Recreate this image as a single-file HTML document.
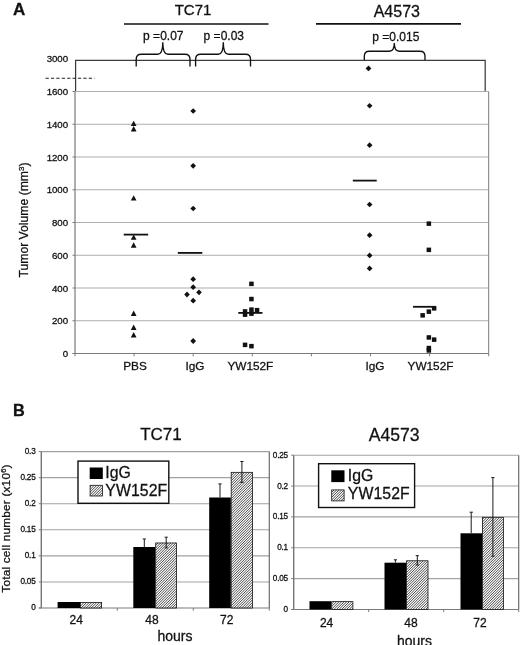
<!DOCTYPE html><html><head><meta charset="utf-8"><title>Figure</title>
<style>html,body{margin:0;padding:0;background:#fff;}body{width:520px;height:645px;overflow:hidden;}svg{display:block;will-change:transform;}text{font-family:"Liberation Sans",sans-serif;fill:#111;stroke:#111;stroke-width:0.28px;}</style></head><body>
<svg width="520" height="645" viewBox="0 0 520 645">
<line x1="75.0" x2="488.7" y1="320.75" y2="320.75" stroke="#adadad" stroke-width="1"/>
<line x1="75.0" x2="488.7" y1="288.00" y2="288.00" stroke="#adadad" stroke-width="1"/>
<line x1="75.0" x2="488.7" y1="255.25" y2="255.25" stroke="#adadad" stroke-width="1"/>
<line x1="75.0" x2="488.7" y1="222.50" y2="222.50" stroke="#adadad" stroke-width="1"/>
<line x1="75.0" x2="488.7" y1="189.75" y2="189.75" stroke="#adadad" stroke-width="1"/>
<line x1="75.0" x2="488.7" y1="157.00" y2="157.00" stroke="#adadad" stroke-width="1"/>
<line x1="75.0" x2="488.7" y1="124.25" y2="124.25" stroke="#adadad" stroke-width="1"/>
<line x1="75.0" x2="488.7" y1="91.50" y2="91.50" stroke="#adadad" stroke-width="1"/>
<line x1="75.0" x2="75.0" y1="91.5" y2="354.0" stroke="#7a7a7a" stroke-width="1.2"/>
<line x1="488.7" x2="488.7" y1="91.5" y2="353.5" stroke="#7a7a7a" stroke-width="1"/>
<line x1="72.5" x2="488.7" y1="353.5" y2="353.5" stroke="#7a7a7a" stroke-width="1.2"/>
<line x1="72.5" x2="75.0" y1="353.50" y2="353.50" stroke="#7a7a7a" stroke-width="1"/>
<line x1="72.5" x2="75.0" y1="320.75" y2="320.75" stroke="#7a7a7a" stroke-width="1"/>
<line x1="72.5" x2="75.0" y1="288.00" y2="288.00" stroke="#7a7a7a" stroke-width="1"/>
<line x1="72.5" x2="75.0" y1="255.25" y2="255.25" stroke="#7a7a7a" stroke-width="1"/>
<line x1="72.5" x2="75.0" y1="222.50" y2="222.50" stroke="#7a7a7a" stroke-width="1"/>
<line x1="72.5" x2="75.0" y1="189.75" y2="189.75" stroke="#7a7a7a" stroke-width="1"/>
<line x1="72.5" x2="75.0" y1="157.00" y2="157.00" stroke="#7a7a7a" stroke-width="1"/>
<line x1="72.5" x2="75.0" y1="124.25" y2="124.25" stroke="#7a7a7a" stroke-width="1"/>
<line x1="72.5" x2="75.0" y1="91.50" y2="91.50" stroke="#7a7a7a" stroke-width="1"/>
<line x1="75.0" x2="75.0" y1="353.5" y2="356.3" stroke="#7a7a7a" stroke-width="1"/>
<line x1="134.1" x2="134.1" y1="353.5" y2="356.3" stroke="#7a7a7a" stroke-width="1"/>
<line x1="193.2" x2="193.2" y1="353.5" y2="356.3" stroke="#7a7a7a" stroke-width="1"/>
<line x1="252.3" x2="252.3" y1="353.5" y2="356.3" stroke="#7a7a7a" stroke-width="1"/>
<line x1="311.4" x2="311.4" y1="353.5" y2="356.3" stroke="#7a7a7a" stroke-width="1"/>
<line x1="370.5" x2="370.5" y1="353.5" y2="356.3" stroke="#7a7a7a" stroke-width="1"/>
<line x1="429.6" x2="429.6" y1="353.5" y2="356.3" stroke="#7a7a7a" stroke-width="1"/>
<line x1="488.7" x2="488.7" y1="353.5" y2="356.3" stroke="#7a7a7a" stroke-width="1"/>
<path d="M75.6 91 V60.3 H485.2 V91" fill="none" stroke="#3c3c3c" stroke-width="1.25"/>
<line x1="45.5" x2="94.5" y1="78.2" y2="78.2" stroke="#222" stroke-width="1.1" stroke-dasharray="3.3 2.1"/>
<text x="68"  y="357.1" font-size="9.7" letter-spacing="-0.07" text-anchor="end">0</text>
<text x="68"  y="324.4" font-size="9.7" letter-spacing="-0.07" text-anchor="end">200</text>
<text x="68"  y="291.6" font-size="9.7" letter-spacing="-0.07" text-anchor="end">400</text>
<text x="68"  y="258.9" font-size="9.7" letter-spacing="-0.07" text-anchor="end">600</text>
<text x="68"  y="226.1" font-size="9.7" letter-spacing="-0.07" text-anchor="end">800</text>
<text x="68"  y="193.3" font-size="9.7" letter-spacing="-0.07" text-anchor="end">1000</text>
<text x="68"  y="160.6" font-size="9.7" letter-spacing="-0.07" text-anchor="end">1200</text>
<text x="68"  y="127.8" font-size="9.7" letter-spacing="-0.07" text-anchor="end">1400</text>
<text x="68"  y="95.1" font-size="9.7" letter-spacing="-0.07" text-anchor="end">1600</text>
<text x="68" y="61.7" font-size="9.7" letter-spacing="-0.07" text-anchor="end">3000</text>
<text transform="translate(28,220) rotate(-90)" font-size="12.2" text-anchor="middle">Tumor Volume (mm<tspan font-size="8" dy="-4">3</tspan><tspan dy="4">)</tspan></text>
<text x="13.1" y="15.2" font-size="17" font-weight="bold">A</text>
<text x="13.1" y="415.5" font-size="16.3" font-weight="bold">B</text>
<text x="193" y="14.9" font-size="15" text-anchor="middle">TC71</text>
<text x="396.8" y="16.5" font-size="16" text-anchor="middle">A4573</text>
<line x1="124" x2="268.5" y1="24" y2="24" stroke="#111" stroke-width="1.7"/>
<line x1="316" x2="461" y1="23.8" y2="23.8" stroke="#111" stroke-width="1.7"/>
<text x="163.3" y="39.9" font-size="12" text-anchor="middle">p =0.07</text>
<text x="223.8" y="39.9" font-size="12" text-anchor="middle">p =0.03</text>
<text x="395.8" y="40.6" font-size="12" text-anchor="middle">p =0.015</text>
<path d="M136.2 66.4 V59.2 Q136.2 54.2 141.2 54.2 H157.8 Q162.8 54.2 162.8 42.3 Q162.8 54.2 167.8 54.2 H185.0 Q190 54.2 190 59.2 V66.4" fill="none" stroke="#111" stroke-width="1.35"/>
<path d="M195.6 66.4 V59.2 Q195.6 54.2 200.6 54.2 H218.3 Q223.3 54.2 223.3 42.3 Q223.3 54.2 228.3 54.2 H245.5 Q250.5 54.2 250.5 59.2 V66.4" fill="none" stroke="#111" stroke-width="1.35"/>
<path d="M364.3 60 V56.2 Q364.3 51.2 369.3 51.2 H389.3 Q394.3 51.2 394.3 43 Q394.3 51.2 399.3 51.2 H420.0 Q425 51.2 425 56.2 V60" fill="none" stroke="#111" stroke-width="1.35"/>
<path d="M133.7 120.8 L136.5 126.1 H130.8 Z" fill="#111"/>
<path d="M133.7 126.1 L136.5 131.4 H130.8 Z" fill="#111"/>
<path d="M133.7 195.2 L136.5 200.5 H130.8 Z" fill="#111"/>
<path d="M133.7 234.5 L136.5 239.8 H130.8 Z" fill="#111"/>
<path d="M133.7 242.3 L136.5 247.7 H130.8 Z" fill="#111"/>
<path d="M133.7 310.6 L136.5 316.1 H130.8 Z" fill="#111"/>
<path d="M133.7 324.5 L136.5 329.9 H130.8 Z" fill="#111"/>
<path d="M133.7 331.9 L136.5 337.4 H130.8 Z" fill="#111"/>
<line x1="123.7" x2="148.2" y1="234.6" y2="234.6" stroke="#111" stroke-width="1.8"/>
<path d="M193.2 108.2 L196.0 111.0 L193.2 113.8 L190.3 111.0 Z" fill="#111"/>
<path d="M193.2 163.0 L196.0 165.8 L193.2 168.7 L190.3 165.8 Z" fill="#111"/>
<path d="M193.2 205.7 L196.0 208.5 L193.2 211.3 L190.3 208.5 Z" fill="#111"/>
<path d="M193.2 276.3 L196.0 279.2 L193.2 282.1 L190.3 279.2 Z" fill="#111"/>
<path d="M193.2 284.3 L196.0 287.2 L193.2 290.1 L190.3 287.2 Z" fill="#111"/>
<path d="M187.0 291.6 L189.8 294.5 L187.0 297.4 L184.2 294.5 Z" fill="#111"/>
<path d="M199.0 289.4 L201.8 292.3 L199.0 295.2 L196.2 292.3 Z" fill="#111"/>
<path d="M193.2 297.8 L196.0 300.7 L193.2 303.6 L190.3 300.7 Z" fill="#111"/>
<path d="M193.2 338.1 L196.0 341.0 L193.2 343.9 L190.3 341.0 Z" fill="#111"/>
<line x1="177.8" x2="202.3" y1="252.9" y2="252.9" stroke="#111" stroke-width="1.8"/>
<rect x="249.2" y="281.6" width="4.5" height="4.5" fill="#111"/>
<rect x="249.2" y="296.8" width="4.5" height="4.5" fill="#111"/>
<rect x="242.8" y="309.2" width="4.5" height="4.5" fill="#111"/>
<rect x="242.8" y="312.4" width="4.5" height="4.5" fill="#111"/>
<rect x="249.2" y="307.4" width="4.5" height="4.5" fill="#111"/>
<rect x="249.2" y="311.4" width="4.5" height="4.5" fill="#111"/>
<rect x="254.8" y="307.9" width="4.5" height="4.5" fill="#111"/>
<rect x="242.8" y="342.6" width="4.5" height="4.5" fill="#111"/>
<rect x="249.2" y="343.9" width="4.5" height="4.5" fill="#111"/>
<line x1="238.3" x2="262.5" y1="312.9" y2="312.9" stroke="#111" stroke-width="1.8"/>
<path d="M368.5 65.6 L371.4 68.4 L368.5 71.2 L365.6 68.4 Z" fill="#111"/>
<path d="M369.6 102.9 L372.5 105.7 L369.6 108.5 L366.8 105.7 Z" fill="#111"/>
<path d="M369.6 142.3 L372.5 145.2 L369.6 148.0 L366.8 145.2 Z" fill="#111"/>
<path d="M369.6 201.7 L372.5 204.5 L369.6 207.3 L366.8 204.5 Z" fill="#111"/>
<path d="M369.6 232.3 L372.5 235.2 L369.6 238.0 L366.8 235.2 Z" fill="#111"/>
<path d="M369.6 252.6 L372.5 255.4 L369.6 258.2 L366.8 255.4 Z" fill="#111"/>
<path d="M369.6 265.5 L372.5 268.4 L369.6 271.2 L366.8 268.4 Z" fill="#111"/>
<line x1="352.8" x2="376.7" y1="180.6" y2="180.6" stroke="#111" stroke-width="1.8"/>
<rect x="426.6" y="221.4" width="4.5" height="4.5" fill="#111"/>
<rect x="426.6" y="247.6" width="4.5" height="4.5" fill="#111"/>
<rect x="431.9" y="306.1" width="4.5" height="4.5" fill="#111"/>
<rect x="426.6" y="309.4" width="4.5" height="4.5" fill="#111"/>
<rect x="420.4" y="313.1" width="4.5" height="4.5" fill="#111"/>
<rect x="426.6" y="335.2" width="4.5" height="4.5" fill="#111"/>
<rect x="431.9" y="337.4" width="4.5" height="4.5" fill="#111"/>
<rect x="426.6" y="345.8" width="4.5" height="4.5" fill="#111"/>
<rect x="426.6" y="348.2" width="4.5" height="4.5" fill="#111"/>
<line x1="413" x2="436" y1="306.8" y2="306.8" stroke="#111" stroke-width="1.8"/>
<text x="135" y="370.3" font-size="11.8" text-anchor="middle">PBS</text>
<text x="194.9" y="370.3" font-size="11.8" text-anchor="middle">IgG</text>
<text x="250.4" y="370.3" font-size="11.8" text-anchor="middle">YW152F</text>
<text x="375" y="370.3" font-size="11.8" text-anchor="middle">IgG</text>
<text x="430.5" y="370.3" font-size="11.8" text-anchor="middle">YW152F</text>
<line x1="41.3" x2="269.3" y1="581.93" y2="581.93" stroke="#a2a2a2" stroke-width="1.1"/>
<line x1="41.3" x2="269.3" y1="555.87" y2="555.87" stroke="#a2a2a2" stroke-width="1.1"/>
<line x1="41.3" x2="269.3" y1="529.80" y2="529.80" stroke="#a2a2a2" stroke-width="1.1"/>
<line x1="41.3" x2="269.3" y1="503.73" y2="503.73" stroke="#a2a2a2" stroke-width="1.1"/>
<line x1="41.3" x2="269.3" y1="477.67" y2="477.67" stroke="#a2a2a2" stroke-width="1.1"/>
<line x1="41.3" x2="269.3" y1="451.60" y2="451.60" stroke="#a2a2a2" stroke-width="1.1"/>
<line x1="269.3" x2="269.3" y1="451.6" y2="608.0" stroke="#6c6c6c" stroke-width="1.2"/>
<line x1="41.3" x2="41.3" y1="451.6" y2="608.0" stroke="#747474" stroke-width="1.4"/>
<line x1="38.8" x2="269.3" y1="608.0" y2="608.0" stroke="#7a7a7a" stroke-width="1.2"/>
<line x1="38.8" x2="41.3" y1="608.00" y2="608.00" stroke="#7a7a7a" stroke-width="1"/>
<text x="35.5"  y="610.4" font-size="8.2" letter-spacing="-0.22" text-anchor="end">0</text>
<line x1="38.8" x2="41.3" y1="581.93" y2="581.93" stroke="#7a7a7a" stroke-width="1"/>
<text x="35.5"  y="584.3" font-size="8.2" letter-spacing="-0.22" text-anchor="end">0.05</text>
<line x1="38.8" x2="41.3" y1="555.87" y2="555.87" stroke="#7a7a7a" stroke-width="1"/>
<text x="35.5"  y="558.3" font-size="8.2" letter-spacing="-0.22" text-anchor="end">0.1</text>
<line x1="38.8" x2="41.3" y1="529.80" y2="529.80" stroke="#7a7a7a" stroke-width="1"/>
<text x="35.5"  y="532.2" font-size="8.2" letter-spacing="-0.22" text-anchor="end">0.15</text>
<line x1="38.8" x2="41.3" y1="503.73" y2="503.73" stroke="#7a7a7a" stroke-width="1"/>
<text x="35.5"  y="506.1" font-size="8.2" letter-spacing="-0.22" text-anchor="end">0.2</text>
<line x1="38.8" x2="41.3" y1="477.67" y2="477.67" stroke="#7a7a7a" stroke-width="1"/>
<text x="35.5"  y="480.1" font-size="8.2" letter-spacing="-0.22" text-anchor="end">0.25</text>
<line x1="38.8" x2="41.3" y1="451.60" y2="451.60" stroke="#7a7a7a" stroke-width="1"/>
<text x="35.5"  y="454.0" font-size="8.2" letter-spacing="-0.22" text-anchor="end">0.3</text>
<line x1="117.3" x2="117.3" y1="608.0" y2="610.6" stroke="#7a7a7a" stroke-width="1"/>
<line x1="193.3" x2="193.3" y1="608.0" y2="610.6" stroke="#7a7a7a" stroke-width="1"/>
<line x1="269.3" x2="269.3" y1="608.0" y2="610.6" stroke="#7a7a7a" stroke-width="1"/>
<rect x="57.6" y="602.0" width="22.4" height="6.0" fill="#000"/>
<clipPath id="c1"><rect x="80.40" y="602.40" width="21.20" height="5.60"/></clipPath><rect x="80.40" y="602.40" width="21.20" height="5.60" fill="#fff"/><path clip-path="url(#c1)" d="M73.45 608.00l5.60 -5.60M76.00 608.00l5.60 -5.60M78.55 608.00l5.60 -5.60M81.10 608.00l5.60 -5.60M83.65 608.00l5.60 -5.60M86.20 608.00l5.60 -5.60M88.75 608.00l5.60 -5.60M91.30 608.00l5.60 -5.60M93.85 608.00l5.60 -5.60M96.40 608.00l5.60 -5.60M98.95 608.00l5.60 -5.60M101.50 608.00l5.60 -5.60" stroke="#000" stroke-width="0.72" fill="none"/><rect x="80.40" y="602.40" width="21.20" height="5.60" fill="none" stroke="#111" stroke-width="0.8"/>
<rect x="133.3" y="547.0" width="22.0" height="61.0" fill="#000"/>
<clipPath id="c2"><rect x="155.70" y="542.97" width="20.90" height="65.03"/></clipPath><rect x="155.70" y="542.97" width="20.90" height="65.03" fill="#fff"/><path clip-path="url(#c2)" d="M90.52 608.00l65.03 -65.03M93.07 608.00l65.03 -65.03M95.62 608.00l65.03 -65.03M98.17 608.00l65.03 -65.03M100.72 608.00l65.03 -65.03M103.27 608.00l65.03 -65.03M105.82 608.00l65.03 -65.03M108.37 608.00l65.03 -65.03M110.92 608.00l65.03 -65.03M113.47 608.00l65.03 -65.03M116.02 608.00l65.03 -65.03M118.57 608.00l65.03 -65.03M121.12 608.00l65.03 -65.03M123.67 608.00l65.03 -65.03M126.22 608.00l65.03 -65.03M128.77 608.00l65.03 -65.03M131.32 608.00l65.03 -65.03M133.87 608.00l65.03 -65.03M136.42 608.00l65.03 -65.03M138.97 608.00l65.03 -65.03M141.52 608.00l65.03 -65.03M144.07 608.00l65.03 -65.03M146.62 608.00l65.03 -65.03M149.17 608.00l65.03 -65.03M151.72 608.00l65.03 -65.03M154.27 608.00l65.03 -65.03M156.82 608.00l65.03 -65.03M159.37 608.00l65.03 -65.03M161.92 608.00l65.03 -65.03M164.47 608.00l65.03 -65.03M167.02 608.00l65.03 -65.03M169.57 608.00l65.03 -65.03M172.12 608.00l65.03 -65.03M174.67 608.00l65.03 -65.03" stroke="#000" stroke-width="0.72" fill="none"/><rect x="155.70" y="542.97" width="20.90" height="65.03" fill="none" stroke="#111" stroke-width="0.8"/>
<path d="M144.3 547.0 V539.0 M142.7 539.0 H145.9" stroke="#1a1a1a" stroke-width="1" fill="none"/>
<path d="M166.2 547.9 V537.2 M164.6 537.2 H167.8 M164.6 547.9 H167.8" stroke="#1a1a1a" stroke-width="1" fill="none"/>
<rect x="209.2" y="497.5" width="21.6" height="110.5" fill="#000"/>
<clipPath id="c3"><rect x="231.20" y="472.33" width="21.40" height="135.67"/></clipPath><rect x="231.20" y="472.33" width="21.40" height="135.67" fill="#fff"/><path clip-path="url(#c3)" d="M93.83 608.00l135.67 -135.67M96.38 608.00l135.67 -135.67M98.93 608.00l135.67 -135.67M101.48 608.00l135.67 -135.67M104.03 608.00l135.67 -135.67M106.58 608.00l135.67 -135.67M109.13 608.00l135.67 -135.67M111.68 608.00l135.67 -135.67M114.23 608.00l135.67 -135.67M116.78 608.00l135.67 -135.67M119.33 608.00l135.67 -135.67M121.88 608.00l135.67 -135.67M124.43 608.00l135.67 -135.67M126.98 608.00l135.67 -135.67M129.53 608.00l135.67 -135.67M132.08 608.00l135.67 -135.67M134.63 608.00l135.67 -135.67M137.18 608.00l135.67 -135.67M139.73 608.00l135.67 -135.67M142.28 608.00l135.67 -135.67M144.83 608.00l135.67 -135.67M147.38 608.00l135.67 -135.67M149.93 608.00l135.67 -135.67M152.48 608.00l135.67 -135.67M155.03 608.00l135.67 -135.67M157.58 608.00l135.67 -135.67M160.13 608.00l135.67 -135.67M162.68 608.00l135.67 -135.67M165.23 608.00l135.67 -135.67M167.78 608.00l135.67 -135.67M170.33 608.00l135.67 -135.67M172.88 608.00l135.67 -135.67M175.43 608.00l135.67 -135.67M177.98 608.00l135.67 -135.67M180.53 608.00l135.67 -135.67M183.08 608.00l135.67 -135.67M185.63 608.00l135.67 -135.67M188.18 608.00l135.67 -135.67M190.73 608.00l135.67 -135.67M193.28 608.00l135.67 -135.67M195.83 608.00l135.67 -135.67M198.38 608.00l135.67 -135.67M200.93 608.00l135.67 -135.67M203.48 608.00l135.67 -135.67M206.03 608.00l135.67 -135.67M208.58 608.00l135.67 -135.67M211.13 608.00l135.67 -135.67M213.68 608.00l135.67 -135.67M216.23 608.00l135.67 -135.67M218.78 608.00l135.67 -135.67M221.33 608.00l135.67 -135.67M223.88 608.00l135.67 -135.67M226.43 608.00l135.67 -135.67M228.98 608.00l135.67 -135.67M231.53 608.00l135.67 -135.67M234.08 608.00l135.67 -135.67M236.63 608.00l135.67 -135.67M239.18 608.00l135.67 -135.67M241.73 608.00l135.67 -135.67M244.28 608.00l135.67 -135.67M246.83 608.00l135.67 -135.67M249.38 608.00l135.67 -135.67M251.93 608.00l135.67 -135.67" stroke="#000" stroke-width="0.72" fill="none"/><rect x="231.20" y="472.33" width="21.40" height="135.67" fill="none" stroke="#111" stroke-width="0.8"/>
<path d="M220.0 497.5 V483.9 M218.4 483.9 H221.6" stroke="#1a1a1a" stroke-width="1" fill="none"/>
<path d="M241.9 482.4 V461.5 M240.3 461.5 H243.5 M240.3 482.4 H243.5" stroke="#1a1a1a" stroke-width="1" fill="none"/>
<text x="161" y="440.1" font-size="17" text-anchor="middle">TC71</text>
<rect x="78" y="461.1" width="90.8" height="42.2" fill="#fff" stroke="#111" stroke-width="1.4"/>
<rect x="89.7" y="467.5" width="13.1" height="11.5" fill="#000"/>
<clipPath id="c4"><rect x="90.10" y="485.30" width="12.30" height="10.70"/></clipPath><rect x="90.10" y="485.30" width="12.30" height="10.70" fill="#fff"/><path clip-path="url(#c4)" d="M78.55 496.00l10.70 -10.70M81.10 496.00l10.70 -10.70M83.65 496.00l10.70 -10.70M86.20 496.00l10.70 -10.70M88.75 496.00l10.70 -10.70M91.30 496.00l10.70 -10.70M93.85 496.00l10.70 -10.70M96.40 496.00l10.70 -10.70M98.95 496.00l10.70 -10.70M101.50 496.00l10.70 -10.70" stroke="#000" stroke-width="0.72" fill="none"/><rect x="90.10" y="485.30" width="12.30" height="10.70" fill="none" stroke="#111" stroke-width="0.8"/>
<text x="105.3" y="478.3" font-size="15.8">IgG</text>
<text x="105.3" y="496.3" font-size="15.8" letter-spacing="0.1">YW152F</text>
<text x="76.3" y="623.6" font-size="12" text-anchor="middle">24</text>
<text x="151.9" y="623.6" font-size="12" text-anchor="middle">48</text>
<text x="226.7" y="623.6" font-size="12" text-anchor="middle">72</text>
<text x="175" y="640.6" font-size="14" text-anchor="middle">hours</text>
<line x1="293.7" x2="518.7" y1="578.64" y2="578.64" stroke="#a2a2a2" stroke-width="1.1"/>
<line x1="293.7" x2="518.7" y1="547.78" y2="547.78" stroke="#a2a2a2" stroke-width="1.1"/>
<line x1="293.7" x2="518.7" y1="516.92" y2="516.92" stroke="#a2a2a2" stroke-width="1.1"/>
<line x1="293.7" x2="518.7" y1="486.06" y2="486.06" stroke="#a2a2a2" stroke-width="1.1"/>
<line x1="293.7" x2="518.7" y1="455.20" y2="455.20" stroke="#a2a2a2" stroke-width="1.1"/>
<line x1="518.7" x2="518.7" y1="455.2" y2="609.5" stroke="#6c6c6c" stroke-width="1.2"/>
<line x1="293.7" x2="293.7" y1="455.2" y2="609.5" stroke="#747474" stroke-width="1.4"/>
<line x1="291.2" x2="518.7" y1="609.5" y2="609.5" stroke="#7a7a7a" stroke-width="1.2"/>
<line x1="291.2" x2="293.7" y1="609.50" y2="609.50" stroke="#7a7a7a" stroke-width="1"/>
<text x="287.9"  y="611.9" font-size="8.2" letter-spacing="-0.22" text-anchor="end">0</text>
<line x1="291.2" x2="293.7" y1="578.64" y2="578.64" stroke="#7a7a7a" stroke-width="1"/>
<text x="287.9"  y="581.0" font-size="8.2" letter-spacing="-0.22" text-anchor="end">0.05</text>
<line x1="291.2" x2="293.7" y1="547.78" y2="547.78" stroke="#7a7a7a" stroke-width="1"/>
<text x="287.9"  y="550.2" font-size="8.2" letter-spacing="-0.22" text-anchor="end">0.1</text>
<line x1="291.2" x2="293.7" y1="516.92" y2="516.92" stroke="#7a7a7a" stroke-width="1"/>
<text x="287.9"  y="519.3" font-size="8.2" letter-spacing="-0.22" text-anchor="end">0.15</text>
<line x1="291.2" x2="293.7" y1="486.06" y2="486.06" stroke="#7a7a7a" stroke-width="1"/>
<text x="287.9"  y="488.5" font-size="8.2" letter-spacing="-0.22" text-anchor="end">0.2</text>
<line x1="291.2" x2="293.7" y1="455.20" y2="455.20" stroke="#7a7a7a" stroke-width="1"/>
<text x="287.9"  y="457.6" font-size="8.2" letter-spacing="-0.22" text-anchor="end">0.25</text>
<line x1="368.7" x2="368.7" y1="609.5" y2="612.1" stroke="#7a7a7a" stroke-width="1"/>
<line x1="443.7" x2="443.7" y1="609.5" y2="612.1" stroke="#7a7a7a" stroke-width="1"/>
<line x1="518.7" x2="518.7" y1="609.5" y2="612.1" stroke="#7a7a7a" stroke-width="1"/>
<rect x="309.5" y="601.2" width="21.8" height="8.3" fill="#000"/>
<clipPath id="c5"><rect x="331.70" y="601.63" width="21.20" height="7.87"/></clipPath><rect x="331.70" y="601.63" width="21.20" height="7.87" fill="#fff"/><path clip-path="url(#c5)" d="M323.63 609.50l7.87 -7.87M326.18 609.50l7.87 -7.87M328.73 609.50l7.87 -7.87M331.28 609.50l7.87 -7.87M333.83 609.50l7.87 -7.87M336.38 609.50l7.87 -7.87M338.93 609.50l7.87 -7.87M341.48 609.50l7.87 -7.87M344.03 609.50l7.87 -7.87M346.58 609.50l7.87 -7.87M349.13 609.50l7.87 -7.87M351.68 609.50l7.87 -7.87" stroke="#000" stroke-width="0.72" fill="none"/><rect x="331.70" y="601.63" width="21.20" height="7.87" fill="none" stroke="#111" stroke-width="0.8"/>
<rect x="384.5" y="562.7" width="21.7" height="46.8" fill="#000"/>
<clipPath id="c6"><rect x="406.60" y="560.77" width="21.40" height="48.73"/></clipPath><rect x="406.60" y="560.77" width="21.40" height="48.73" fill="#fff"/><path clip-path="url(#c6)" d="M356.72 609.50l48.73 -48.73M359.27 609.50l48.73 -48.73M361.82 609.50l48.73 -48.73M364.37 609.50l48.73 -48.73M366.92 609.50l48.73 -48.73M369.47 609.50l48.73 -48.73M372.02 609.50l48.73 -48.73M374.57 609.50l48.73 -48.73M377.12 609.50l48.73 -48.73M379.67 609.50l48.73 -48.73M382.22 609.50l48.73 -48.73M384.77 609.50l48.73 -48.73M387.32 609.50l48.73 -48.73M389.87 609.50l48.73 -48.73M392.42 609.50l48.73 -48.73M394.97 609.50l48.73 -48.73M397.52 609.50l48.73 -48.73M400.07 609.50l48.73 -48.73M402.62 609.50l48.73 -48.73M405.17 609.50l48.73 -48.73M407.72 609.50l48.73 -48.73M410.27 609.50l48.73 -48.73M412.82 609.50l48.73 -48.73M415.37 609.50l48.73 -48.73M417.92 609.50l48.73 -48.73M420.47 609.50l48.73 -48.73M423.02 609.50l48.73 -48.73M425.57 609.50l48.73 -48.73" stroke="#000" stroke-width="0.72" fill="none"/><rect x="406.60" y="560.77" width="21.40" height="48.73" fill="none" stroke="#111" stroke-width="0.8"/>
<path d="M395.4 562.7 V559.8 M393.8 559.8 H397.0" stroke="#1a1a1a" stroke-width="1" fill="none"/>
<path d="M417.3 565.0 V555.7 M415.7 555.7 H418.9 M415.7 565.0 H418.9" stroke="#1a1a1a" stroke-width="1" fill="none"/>
<rect x="460.5" y="533.3" width="21.5" height="76.2" fill="#000"/>
<clipPath id="c7"><rect x="482.40" y="517.32" width="21.00" height="92.18"/></clipPath><rect x="482.40" y="517.32" width="21.00" height="92.18" fill="#fff"/><path clip-path="url(#c7)" d="M389.77 609.50l92.18 -92.18M392.32 609.50l92.18 -92.18M394.87 609.50l92.18 -92.18M397.42 609.50l92.18 -92.18M399.97 609.50l92.18 -92.18M402.52 609.50l92.18 -92.18M405.07 609.50l92.18 -92.18M407.62 609.50l92.18 -92.18M410.17 609.50l92.18 -92.18M412.72 609.50l92.18 -92.18M415.27 609.50l92.18 -92.18M417.82 609.50l92.18 -92.18M420.37 609.50l92.18 -92.18M422.92 609.50l92.18 -92.18M425.47 609.50l92.18 -92.18M428.02 609.50l92.18 -92.18M430.57 609.50l92.18 -92.18M433.12 609.50l92.18 -92.18M435.67 609.50l92.18 -92.18M438.22 609.50l92.18 -92.18M440.77 609.50l92.18 -92.18M443.32 609.50l92.18 -92.18M445.87 609.50l92.18 -92.18M448.42 609.50l92.18 -92.18M450.97 609.50l92.18 -92.18M453.52 609.50l92.18 -92.18M456.07 609.50l92.18 -92.18M458.62 609.50l92.18 -92.18M461.17 609.50l92.18 -92.18M463.72 609.50l92.18 -92.18M466.27 609.50l92.18 -92.18M468.82 609.50l92.18 -92.18M471.37 609.50l92.18 -92.18M473.92 609.50l92.18 -92.18M476.47 609.50l92.18 -92.18M479.02 609.50l92.18 -92.18M481.57 609.50l92.18 -92.18M484.12 609.50l92.18 -92.18M486.67 609.50l92.18 -92.18M489.22 609.50l92.18 -92.18M491.77 609.50l92.18 -92.18M494.32 609.50l92.18 -92.18M496.87 609.50l92.18 -92.18M499.42 609.50l92.18 -92.18M501.97 609.50l92.18 -92.18" stroke="#000" stroke-width="0.72" fill="none"/><rect x="482.40" y="517.32" width="21.00" height="92.18" fill="none" stroke="#111" stroke-width="0.8"/>
<path d="M471.2 533.3 V512.2 M469.6 512.2 H472.9" stroke="#1a1a1a" stroke-width="1" fill="none"/>
<path d="M492.9 556.2 V477.6 M491.3 477.6 H494.5 M491.3 556.2 H494.5" stroke="#1a1a1a" stroke-width="1" fill="none"/>
<text x="394.2" y="440.8" font-size="17.6" text-anchor="middle">A4573</text>
<rect x="318.6" y="463.7" width="96" height="43.8" fill="#fff" stroke="#111" stroke-width="1.4"/>
<rect x="331.3" y="470.3" width="13.2" height="11.8" fill="#000"/>
<clipPath id="c8"><rect x="331.70" y="489.90" width="12.40" height="11.00"/></clipPath><rect x="331.70" y="489.90" width="12.40" height="11.00" fill="#fff"/><path clip-path="url(#c8)" d="M320.50 500.90l11.00 -11.00M323.05 500.90l11.00 -11.00M325.60 500.90l11.00 -11.00M328.15 500.90l11.00 -11.00M330.70 500.90l11.00 -11.00M333.25 500.90l11.00 -11.00M335.80 500.90l11.00 -11.00M338.35 500.90l11.00 -11.00M340.90 500.90l11.00 -11.00M343.45 500.90l11.00 -11.00" stroke="#000" stroke-width="0.72" fill="none"/><rect x="331.70" y="489.90" width="12.40" height="11.00" fill="none" stroke="#111" stroke-width="0.8"/>
<text x="347.8" y="480.7" font-size="15.8">IgG</text>
<text x="347.8" y="498.9" font-size="15.8" letter-spacing="0.1">YW152F</text>
<text x="326.6" y="626.9" font-size="12" text-anchor="middle">24</text>
<text x="411" y="626.9" font-size="12" text-anchor="middle">48</text>
<text x="480" y="626.9" font-size="12" text-anchor="middle">72</text>
<text x="414.4" y="645.7" font-size="14" text-anchor="middle">hours</text>
<text transform="translate(9.6,528.5) rotate(-90)" font-size="11.8" letter-spacing="0.2" text-anchor="middle">Total cell number (x10<tspan font-size="7.5" dy="-3.8">6</tspan><tspan dy="3.8">)</tspan></text>
</svg></body></html>
